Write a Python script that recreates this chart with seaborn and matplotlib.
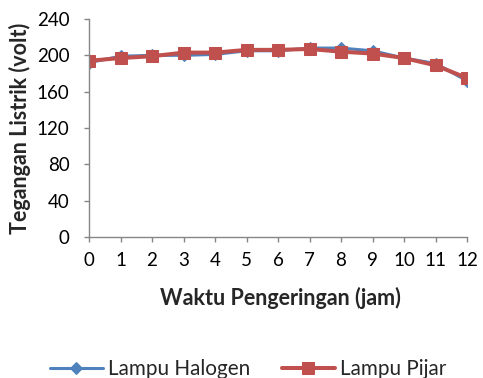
import matplotlib
matplotlib.use("Agg")
import matplotlib.pyplot as plt
import seaborn as sns
import pandas as pd

jam = [0, 1, 2, 3, 4, 5, 6, 7, 8, 9, 10, 11, 12]
halogen = [192, 199, 200, 200, 201, 205, 205, 208, 208, 205, 197, 191, 172]
pijar = [194, 197, 199, 203, 203, 206, 206, 207, 204, 202, 197, 189, 175]
y_ticks = [0, 40, 80, 120, 160, 200, 240]

sns.set_theme(style="white")
plt.rcParams['font.family'] = ['Lato', 'DejaVu Sans']

W, H = 483, 378
x0, x1, yb, yt = 89, 467, 237, 19
fig = plt.figure(figsize=(W/100, H/100), dpi=100)
ax = fig.add_axes([x0/W, 1-yb/H, (x1-x0)/W, (yb-yt)/H])

df = pd.DataFrame({"jam": jam, "Lampu Halogen": halogen, "Lampu Pijar": pijar})

sns.lineplot(data=df, x="jam", y="Lampu Halogen", ax=ax, color="#4F81BD",
             linewidth=2.2, marker="D", markersize=6, markeredgecolor="#4F81BD",
             label="Lampu Halogen")
sns.lineplot(data=df, x="jam", y="Lampu Pijar", ax=ax, color="#C0504D",
             linewidth=2.9, marker="s", markersize=9.2, markeredgecolor="#C0504D",
             label="Lampu Pijar")

ax.set_xlim(0, 12)
ax.set_ylim(0, 240)
ax.set_xticks(jam)
ax.set_xticklabels([str(v) for v in jam])
ax.set_yticks(y_ticks)
ax.set_yticklabels([str(v) for v in y_ticks])

for s in ["top", "right"]:
    ax.spines[s].set_visible(False)
for s in ["left", "bottom"]:
    ax.spines[s].set_color("#868686")
    ax.spines[s].set_linewidth(1.0)
ax.tick_params(axis="both", which="both", direction="out", length=3.6, width=1.0,
               color="#868686", labelsize=13.5, labelcolor="black",
               left=True, bottom=True)
ax.tick_params(axis="y", pad=10.5)
ax.tick_params(axis="x", pad=7)
ax.grid(False)

ax.set_xlabel("Waktu Pengeringan (jam)", fontsize=15.5, fontweight="bold", va="center")
ax.set_ylabel("Tegangan Listrik (volt)", fontsize=15.5, fontweight="bold", va="center")
ax.xaxis.set_label_coords((280-x0)/(x1-x0), (yb-298)/(yb-yt))
ax.yaxis.set_label_coords((20-x0)/(x1-x0), 0.5)

ax.legend(loc="center", bbox_to_anchor=(248/W, 1-369/H), bbox_transform=fig.transFigure,
          ncol=2, frameon=False, fontsize=14.9, handlelength=2.56, columnspacing=1.55,
          handletextpad=0.24, borderpad=0, borderaxespad=0)

fig.savefig("out.png", dpi=100)
